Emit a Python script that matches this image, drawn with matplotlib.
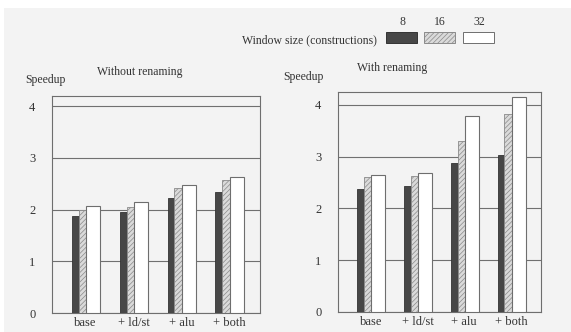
import matplotlib.pyplot as plt
import matplotlib.patches as mpatches
import numpy as np

plt.rcParams['font.family'] = ['Liberation Serif', 'DejaVu Serif']
plt.rcParams['hatch.color'] = '#9a9a9a'
plt.rcParams['hatch.linewidth'] = 0.5

categories = ['base', '+ ld/st', '+ alu', '+ both']
window_sizes = ['8', '16', '32']

# speedup without renaming, one list per window size
no_rename_8 = [1.88, 1.95, 2.23, 2.35]
no_rename_16 = [1.99, 2.05, 2.42, 2.57]
no_rename_32 = [2.08, 2.15, 2.48, 2.63]

# speedup with renaming
rename_8 = [2.37, 2.44, 2.88, 3.03]
rename_16 = [2.60, 2.63, 3.30, 3.82]
rename_32 = [2.65, 2.69, 3.78, 4.15]

bg = '#f3f3f3'
edge = '#6e6e6e'

fig = plt.figure(figsize=(5.71, 3.32), dpi=100, facecolor='white')
fig.patches.append(mpatches.Rectangle((4 / 571, 0), 1, 1 - 8 / 332,
                                      transform=fig.transFigure,
                                      facecolor=bg, edgecolor='none', zorder=-10))

W, H = 571, 332
# axes boxes in pixel coords: left, right, bottom(y from top), top(y from top)
boxes = [(52, 260, 313, 96), (338, 541, 312, 92)]
ytops = [4.2, 4.25]
datasets = [(no_rename_8, no_rename_16, no_rename_32),
            (rename_8, rename_16, rename_32)]

x = np.arange(len(categories))
for (l, r, b, t), ytop, (d8, d16, d32) in zip(boxes, ytops, datasets):
    ax = fig.add_axes([l / W, 1 - b / H, (r - l) / W, (b - t) / H])
    ax.set_facecolor(bg)
    ax.bar(x - 0.29, d8, width=0.15, align='edge', color='#474747',
           edgecolor='#333333', linewidth=0.6, zorder=3)
    ax.bar(x - 0.145, d16, width=0.155, align='edge', color='#dadada',
           edgecolor='#8a8a8a', hatch='///////', linewidth=0.6, zorder=3)
    ax.bar(x + 0.01, d32, width=0.30, align='edge', color='white',
           edgecolor=edge, linewidth=0.8, zorder=3)
    ax.set_xlim(-0.7, 3.64)
    ax.set_ylim(0, ytop)
    ax.set_yticks([0, 1, 2, 3, 4])
    ax.yaxis.grid(True, color='#707070', linewidth=0.8, zorder=0)
    ax.set_axisbelow(True)
    ax.set_xticks(x)
    ax.set_xticklabels(categories, fontsize=9, color='#333333')
    ax.tick_params(axis='both', length=0, labelsize=9, labelcolor='#333333')
    ax.tick_params(axis='y', pad=12)
    ax.tick_params(axis='x', pad=3)
    for s in ax.spines.values():
        s.set_color(edge)
        s.set_linewidth(0.8)

def px(xp, yp):
    return xp / W, 1 - yp / H

txt = dict(fontsize=8.5, color='#333333', va='center')
fig.text(*px(25, 80), 'Speedup', ha='left', **txt)
fig.text(*px(140, 72), 'Without renaming', ha='center', **txt)
fig.text(*px(283, 77), 'Speedup', ha='left', **txt)
fig.text(*px(392, 68), 'With renaming', ha='center', **txt)

# legend
fig.text(*px(377, 40), 'Window size (constructions)', ha='right', **txt)
styles = [dict(facecolor='#474747', edgecolor='#333333'),
          dict(facecolor='#dadada', edgecolor='#8a8a8a', hatch='///////'),
          dict(facecolor='white', edgecolor=edge)]
lefts = [386, 424, 463]
for lab, lx, st in zip(window_sizes, lefts, styles):
    x0, y0 = px(lx, 43)
    fig.patches.append(mpatches.Rectangle((x0, y0), 31 / W, 11 / H,
                                          transform=fig.transFigure,
                                          linewidth=0.7, **st))
    fig.text(*px(lx + 16, 22), lab, ha='center', **txt)

fig.savefig('out.png', dpi=100, facecolor=fig.get_facecolor())
